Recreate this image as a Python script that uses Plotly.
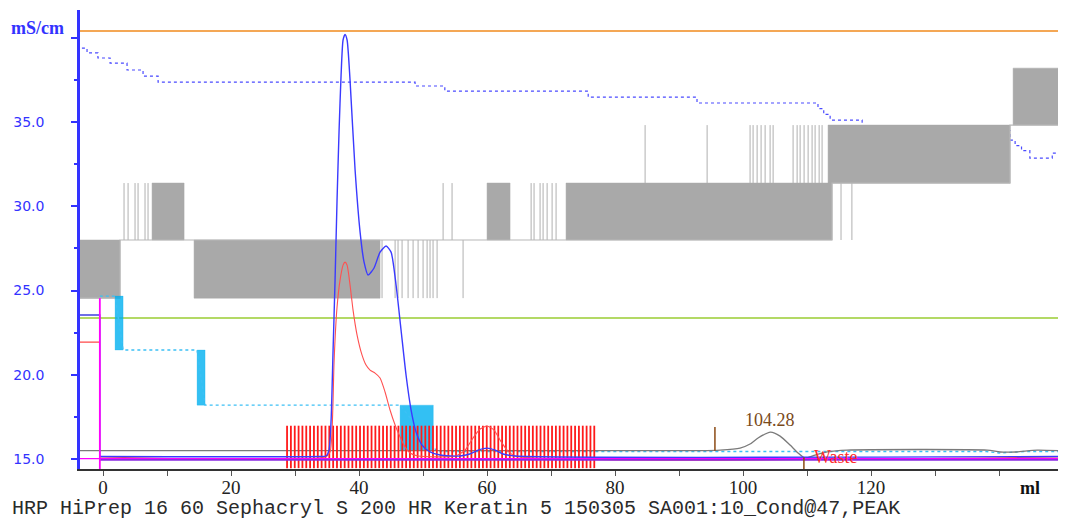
import plotly.graph_objects as go

# ---------------- axes ----------------
X_RANGE = [-3.6, 149.2]
Y_RANGE = [14.41, 41.65]
X_TICKS = [0, 10, 20, 30, 40, 50, 60, 70, 80, 90, 100, 110, 120, 130, 140]
X_TICK_TEXT = ["0", "", "20", "", "40", "", "60", "", "80", "", "100", "", "120", "", ""]
Y_TICKS = [15, 20, 25, 30, 35, 40]
Y_TICK_TEXT = ["15.0", "20.0", "25.0", "30.0", "35.0", ""]
Y_MINOR = [17.5, 22.5, 27.5, 32.5, 37.5]

# ---------------- gray quantised signal ----------------
GRAY_LEVELS = [24.55, 28.0, 31.38, 34.82, 38.2]
GRAY_BASE_X = [-3.6, 2.66, 113.9, 141.7, 149.2]
GRAY_BASE_Y = [24.55, 28.0, 31.38, 34.82, 34.82]
GRAY_DENSE_X0 = [-3.6, 14.22, 7.66, 60.0, 72.34, 113.28, 142.19]
GRAY_DENSE_X1 = [2.66, 43.28, 12.66, 63.59, 113.9, 141.72, 149.2]
GRAY_DENSE_BAND = [0, 0, 1, 1, 1, 2, 3]
GRAY_SPIKE_X = [43.59, 45.63, 46.09, 46.72, 47.66, 48.44, 49.22, 50.0, 50.63, 51.09, 51.56, 52.19, 56.25,
                3.28, 3.91, 5.0, 5.47, 6.56, 7.03, 53.13, 54.53,
                66.88, 67.34, 68.28, 68.75, 69.38, 70.16, 70.78, 115.3, 117.0,
                84.69, 94.38, 101.09, 101.56, 102.19, 102.81, 103.44, 104.22, 104.69,
                107.81, 108.44, 108.91, 109.53, 110.16, 110.78, 111.25, 111.88, 112.34]
GRAY_SPIKE_BAND = [0] * 13 + [1] * 17 + [2] * 18

# ---------------- flat reference lines ----------------
ORANGE_LEVEL = 40.4
GREEN_LEVEL = 23.37
MAGENTA_LEVEL = 15.03
PURPLE_LEVEL = 14.95
INJECT_X = -0.5
INJECT_Y = [24.55, 14.41]

# ---------------- blue dotted step line ----------------
BSTEP_X = [-3.3, -2.5, -0.8, 1.1, 3.75, 6.25, 8.6, 48.75, 53.4, 75.8, 92.8, 111.7, 112.6, 113.6, 118.6,
           141.7, 142.5, 143.5, 144.8, 148.3, 149.2]
BSTEP_Y = [39.39, 39.10, 38.80, 38.50, 38.09, 37.73, 37.37, 37.14, 36.84, 36.48, 36.13, 35.8, 35.45, 35.12, 34.5,
           33.93, 33.6, 33.3, 32.86, 33.16, 33.16]

# ---------------- cyan step line ----------------
CYAN_X = [-0.5, 1.88, 3.13, 14.69, 15.94, 46.41, 52.19, 138.0, 140.0, 144.0, 149.2]
CYAN_Y = [24.67, 24.67, 21.47, 21.47, 18.2, 18.2, 15.45, 15.45, 15.36, 15.45, 15.45]
CYAN_NOISE_X0 = [1.88, 14.69, 46.41]
CYAN_NOISE_X1 = [3.13, 15.94, 51.6]
CYAN_NOISE_LO = [21.47, 18.2, 15.5]
CYAN_NOISE_HI = [24.67, 21.47, 18.2]

# ---------------- blue main curve ----------------
BLUE_PRE_X = [-3.6, -0.5, -0.5]
BLUE_PRE_Y = [23.55, 23.55, 15.15]
BLUE_X = [-0.5, 33.9, 34.84, 35.31, 35.63, 35.94, 36.25, 36.56, 36.88, 37.19, 37.5, 37.81, 38.13, 38.59,
          39.38, 40.16, 40.78, 41.41, 42.34, 43.28, 44.22, 45.0, 45.78, 46.56, 47.34, 48.13, 48.91,
          49.84, 51.09, 52.66, 55.8, 57.3, 58.6, 60.0, 61.25, 62.5, 64.4, 149.2]
BLUE_Y = [15.15, 15.15, 15.18, 15.53, 17.31, 21.47, 25.62, 30.37, 34.53, 37.79, 39.87, 40.2, 39.87, 37.49,
          32.15, 28.47, 26.69, 25.92, 26.34, 27.28, 27.64, 27.28, 25.33, 22.66, 19.99, 17.91, 16.6,
          15.83, 15.42, 15.24, 15.18, 15.3, 15.53, 15.65, 15.53, 15.3, 15.18, 15.15]

# ---------------- red curve ----------------
RED_PRE_X = [-3.6, -0.5]
RED_PRE_Y = [21.94, 21.94]
RED_X = [-0.5, 34.69, 35.47, 35.78, 35.94, 36.09, 36.56, 37.03, 37.5, 37.81, 38.13, 38.59, 39.06, 39.69,
         40.47, 41.09, 41.72, 42.5, 43.28, 44.06, 44.84, 45.63, 46.41, 47.19, 47.97, 49.22,
         55.0, 56.56, 57.81, 58.91, 60.0, 61.09, 62.03, 63.13, 64.38, 149.2]
RED_Y = [15.12, 15.12, 15.42, 16.72, 18.5, 20.7, 24.02, 25.62, 26.51, 26.69, 26.51, 25.33, 23.84, 22.36,
         21.17, 20.58, 20.28, 20.1, 19.81, 18.98, 17.91, 17.02, 16.31, 15.71, 15.36, 15.18,
         15.18, 15.53, 16.25, 16.78, 16.96, 16.72, 16.13, 15.53, 15.18, 15.12]

# ---------------- gray UV curve ----------------
GUV_X = [-3.6, 93.28, 96.41, 99.53, 101.09, 102.34, 104.28, 105.78, 107.34, 108.59, 109.69, 111.25,
         113.13, 116.25, 138.13, 140.16, 142.5, 145.94, 149.2]
GUV_Y = [15.5, 15.5, 15.53, 15.65, 15.89, 16.25, 16.6, 16.36, 15.83, 15.36, 15.06, 15.24,
         15.42, 15.53, 15.53, 15.42, 15.42, 15.53, 15.5]
PEAK_LABEL = "104.28"
PEAK_X = 104.28
PEAK_LABEL_Y = 17.31
PEAK_MARK_X = [95.6, 109.5]
PEAK_MARK_LO = [15.5, 14.41]
PEAK_MARK_HI = [16.9, 15.1]

# ---------------- fractions ----------------
FRACTION_X = [28.75, 29.35, 29.95, 30.55, 31.15, 31.75, 32.35, 32.95, 33.55, 34.15, 34.75, 35.35, 35.95,
              36.55, 37.15, 37.75, 38.35, 38.95, 39.55, 40.15, 40.75, 41.35, 41.95, 42.55, 43.15, 43.75,
              44.35, 44.95, 45.55, 46.15, 46.75, 47.35, 47.95, 48.55, 49.15, 49.75, 50.35, 50.95, 51.55,
              52.15, 52.75, 53.35, 53.95, 54.55, 55.15, 55.75, 56.35, 56.95, 57.55, 58.15, 58.75, 59.35,
              59.95, 60.55, 61.15, 61.75, 62.35, 62.95, 63.55, 64.15, 64.75, 65.35, 65.95, 66.55, 67.15,
              67.75, 68.35, 68.95, 69.55, 70.15, 70.75, 71.35, 71.95, 72.55, 73.15, 73.75, 74.35, 74.95,
              75.55, 76.15, 76.75]
FRACTION_LO = 14.46
FRACTION_HI = 16.98
WASTE_LABEL = "Waste"
WASTE_X = 110.8
WASTE_Y = 15.1

TITLE = "HRP HiPrep 16 60 Sephacryl S 200 HR Keratin 5 150305 SA001:10_Cond@47,PEAK"
Y_UNIT = "mS/cm"
X_UNIT = "ml"

fig = go.Figure()

# blue dotted step (drawn first: hidden behind the gray band where they overlap)
fig.add_trace(go.Scatter(x=BSTEP_X, y=BSTEP_Y, mode="lines", line_shape="hv",
                         line=dict(color="#4a4aff", width=1.2, dash="dot")))

# gray dense bands
gx, gy = [], []
for x0, x1, b in zip(GRAY_DENSE_X0, GRAY_DENSE_X1, GRAY_DENSE_BAND):
    lo, hi = GRAY_LEVELS[b], GRAY_LEVELS[b + 1]
    gx += [x0, x1, x1, x0, x0, None]
    gy += [lo, lo, hi, hi, lo, None]
fig.add_trace(go.Scatter(x=gx, y=gy, mode="lines", fill="toself", fillcolor="#a9a9a9",
                         line=dict(color="#a9a9a9", width=0.5), hoverinfo="skip"))
sx, sy = [], []
for x, b in zip(GRAY_SPIKE_X, GRAY_SPIKE_BAND):
    sx += [x, x, None]
    sy += [GRAY_LEVELS[b], GRAY_LEVELS[b + 1], None]
fig.add_trace(go.Scatter(x=sx, y=sy, mode="lines", line=dict(color="#b0b0b0", width=1)))
fig.add_trace(go.Scatter(x=GRAY_BASE_X, y=GRAY_BASE_Y, mode="lines", line_shape="hv",
                         line=dict(color="#b8b8b8", width=1.2)))

# flat lines
fig.add_trace(go.Scatter(x=X_RANGE, y=[ORANGE_LEVEL] * 2, mode="lines", line=dict(color="#f08a1c", width=1.6)))
fig.add_trace(go.Scatter(x=X_RANGE, y=[GREEN_LEVEL] * 2, mode="lines", line=dict(color="#9acd32", width=1.6)))

# cyan
cx, cy = [], []
for x0, x1, lo, hi in zip(CYAN_NOISE_X0, CYAN_NOISE_X1, CYAN_NOISE_LO, CYAN_NOISE_HI):
    cx += [x0, x1, x1, x0, x0, None]
    cy += [lo, lo, hi, hi, lo, None]
fig.add_trace(go.Scatter(x=cx, y=cy, mode="lines", fill="toself", fillcolor="rgba(0,176,240,0.8)",
                         line=dict(color="rgba(0,176,240,0.5)", width=0.5)))
fig.add_trace(go.Scatter(x=CYAN_X, y=CYAN_Y, mode="lines", line=dict(color="#3cc0f5", width=1.4, dash="dot")))

# gray UV
fig.add_trace(go.Scatter(x=GUV_X, y=GUV_Y, mode="lines", line_shape="spline",
                         line=dict(color="#7a7a7a", width=1.3, smoothing=0.6)))

# fractions
fx, fy = [], []
for x in FRACTION_X:
    fx += [x, x, None]
    fy += [FRACTION_LO, FRACTION_HI, None]
fig.add_trace(go.Scatter(x=fx, y=fy, mode="lines", line=dict(color="#ff1a1a", width=1.8)))

# red
fig.add_trace(go.Scatter(x=RED_PRE_X, y=RED_PRE_Y, mode="lines", line=dict(color="#ff4040", width=1.2)))
fig.add_trace(go.Scatter(x=RED_X, y=RED_Y, mode="lines", line_shape="spline",
                         line=dict(color="#ff5050", width=1.1, smoothing=0.6)))

# blue main
fig.add_trace(go.Scatter(x=BLUE_PRE_X, y=BLUE_PRE_Y, mode="lines", line=dict(color="#4040e0", width=1.3)))
fig.add_trace(go.Scatter(x=BLUE_X, y=BLUE_Y, mode="lines", line_shape="spline",
                         line=dict(color="#3a3aff", width=1.4, smoothing=0.6)))

# magenta / purple
fig.add_trace(go.Scatter(x=X_RANGE, y=[MAGENTA_LEVEL] * 2, mode="lines", line=dict(color="#ff00ff", width=1.3)))
fig.add_trace(go.Scatter(x=[INJECT_X, X_RANGE[1]], y=[PURPLE_LEVEL] * 2, mode="lines",
                         line=dict(color="#8a2be2", width=1.6)))
fig.add_trace(go.Scatter(x=[INJECT_X, INJECT_X], y=INJECT_Y, mode="lines", line=dict(color="#ff00ff", width=1.8)))

# peak marks
mx, my = [], []
for x, lo, hi in zip(PEAK_MARK_X, PEAK_MARK_LO, PEAK_MARK_HI):
    mx += [x, x, None]
    my += [lo, hi, None]
fig.add_trace(go.Scatter(x=mx, y=my, mode="lines", line=dict(color="#8b4a14", width=1.5)))

fig.add_annotation(x=PEAK_X, y=PEAK_LABEL_Y, text=PEAK_LABEL, showarrow=False, xanchor="center",
                   yanchor="middle", font=dict(family="Liberation Serif", size=18, color="#7a4a1a"))
fig.add_annotation(x=WASTE_X, y=WASTE_Y, text=WASTE_LABEL, showarrow=False, xanchor="left",
                   yanchor="middle", font=dict(family="Liberation Serif", size=18, color="#ff2a2a"))
fig.add_annotation(xref="paper", yref="paper", x=-0.0716, y=-0.0871, text=TITLE, showarrow=False,
                   xanchor="left", yanchor="middle",
                   font=dict(family="Liberation Mono", size=20, color="#2a2a2a"))
fig.add_annotation(xref="paper", yref="paper", x=0.971, y=-0.0414, text=X_UNIT, showarrow=False,
                   xanchor="center", yanchor="middle",
                   font=dict(family="Liberation Serif", size=18, color="#111111", weight="bold"))
fig.add_annotation(xref="paper", yref="paper", x=-0.0143, y=0.9608, text=Y_UNIT, showarrow=False,
                   xanchor="right", yanchor="middle",
                   font=dict(family="Liberation Serif", size=18, color="#3333ff", weight="bold"))

# the page body adds an 8 px margin, so the figure is 16 px smaller and margins shifted by 8 px
fig.update_layout(
    width=1058, height=513, showlegend=False,
    margin=dict(l=72, r=8, t=2, b=52, autoexpand=False),
    plot_bgcolor="white", paper_bgcolor="white",
    xaxis=dict(range=X_RANGE, showgrid=False, zeroline=False, showline=True, linecolor="#333333",
               linewidth=1.5, ticks="outside", ticklen=5, tickcolor="#555555", tickvals=X_TICKS,
               ticktext=X_TICK_TEXT, automargin=False, ticklabelstandoff=-5,
               tickfont=dict(family="Liberation Serif", size=19, color="#222222")),
    yaxis=dict(range=Y_RANGE, showgrid=False, zeroline=False, showline=True, linecolor="#3333ff",
               linewidth=2.5, ticks="outside", ticklen=6, tickwidth=1.5, tickcolor="#3333ff",
               tickvals=Y_TICKS, ticktext=Y_TICK_TEXT, ticklabelstandoff=24, automargin=False,
               tickfont=dict(family="DejaVu Sans", size=14, color="#3333ff"),
               minor=dict(tickvals=Y_MINOR, ticks="outside", ticklen=3, tickcolor="#3333ff", tickwidth=1.5)),
)

fig.write_html("out.html")
